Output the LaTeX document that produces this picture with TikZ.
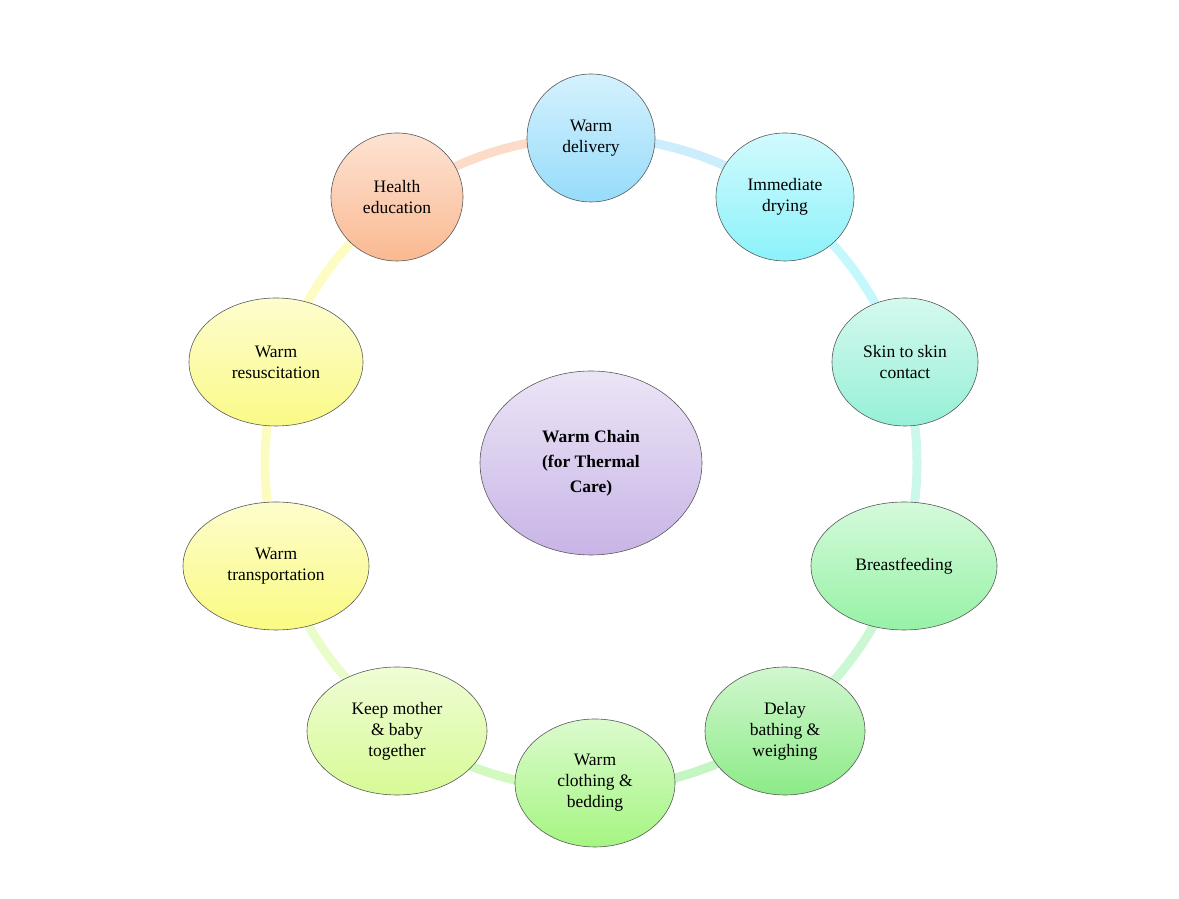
\documentclass[tikz,border=0pt]{standalone}
\usepackage{fontspec}
\setmainfont{Liberation Serif}
\usetikzlibrary{shapes.geometric}
\begin{document}
\begin{tikzpicture}[x=1pt,y=1pt,
  bub/.style={ellipse,draw=black!65,line width=0.6pt,inner sep=0pt,align=center,
    font=\fontsize{17.5}{21}\selectfont,minimum height=128pt},
  seg/.style={line width=9pt},
]
\useasboundingbox (0,0) rectangle (1179,899);
\definecolor{cA}{RGB}{150,220,250}
\definecolor{cB}{RGB}{140,242,250}
\definecolor{cC}{RGB}{150,240,215}
\definecolor{cD}{RGB}{150,242,165}
\definecolor{cE}{RGB}{140,235,135}
\definecolor{cF}{RGB}{165,245,130}
\definecolor{cG}{RGB}{215,250,150}
\definecolor{cH}{RGB}{250,250,130}
\definecolor{cI}{RGB}{250,250,135}
\definecolor{cJ}{RGB}{250,185,145}
\definecolor{cK}{RGB}{200,180,230}
% ring
\foreach \a/\b/\c in {90/54/cA,54/18/cB,18/-18/cC,-18/-54/cD,-54/-90/cE,-90/-126/cF,-126/-162/cG,-162/-198/cH,162/126/cI,126/90/cJ}{
  \draw[seg,draw=\c!50] (591,436) ++(\a:326pt) arc[start angle=\a,end angle=\b,radius=326pt];
}
\node[bub,minimum width=128pt,top color=cA!40,bottom color=cA] (n1) at (591,761) {Warm\\delivery};
\node[bub,minimum width=138pt,top color=cB!40,bottom color=cB] (n2) at (785,702) {Immediate\\drying};
\node[bub,minimum width=146pt,top color=cC!40,bottom color=cC] (n3) at (905,537) {Skin to skin\\contact};
\node[bub,minimum width=186pt,top color=cD!40,bottom color=cD] (n4) at (904,333) {Breastfeeding};
\node[bub,minimum width=160pt,top color=cE!40,bottom color=cE] (n5) at (785,168) {Delay\\bathing \&\\weighing};
\node[bub,minimum width=160pt,top color=cF!40,bottom color=cF] (n6) at (595,116) {Warm\\clothing \&\\bedding};
\node[bub,minimum width=180pt,top color=cG!40,bottom color=cG] (n7) at (397,168) {Keep mother\\\& baby\\together};
\node[bub,minimum width=186pt,top color=cH!40,bottom color=cH] (n8) at (276,333) {Warm\\transportation};
\node[bub,minimum width=174pt,top color=cI!40,bottom color=cI] (n9) at (276,537) {Warm\\resuscitation};
\node[bub,minimum width=132pt,top color=cJ!40,bottom color=cJ] (n10) at (397,702) {Health\\education};
\node[bub,minimum width=222pt,minimum height=184pt,top color=cK!35,bottom color=cK,
  font=\fontsize{17.5}{25}\selectfont\bfseries] (c) at (591,436) {Warm Chain\\(for Thermal\\Care)};
\end{tikzpicture}
\end{document}
